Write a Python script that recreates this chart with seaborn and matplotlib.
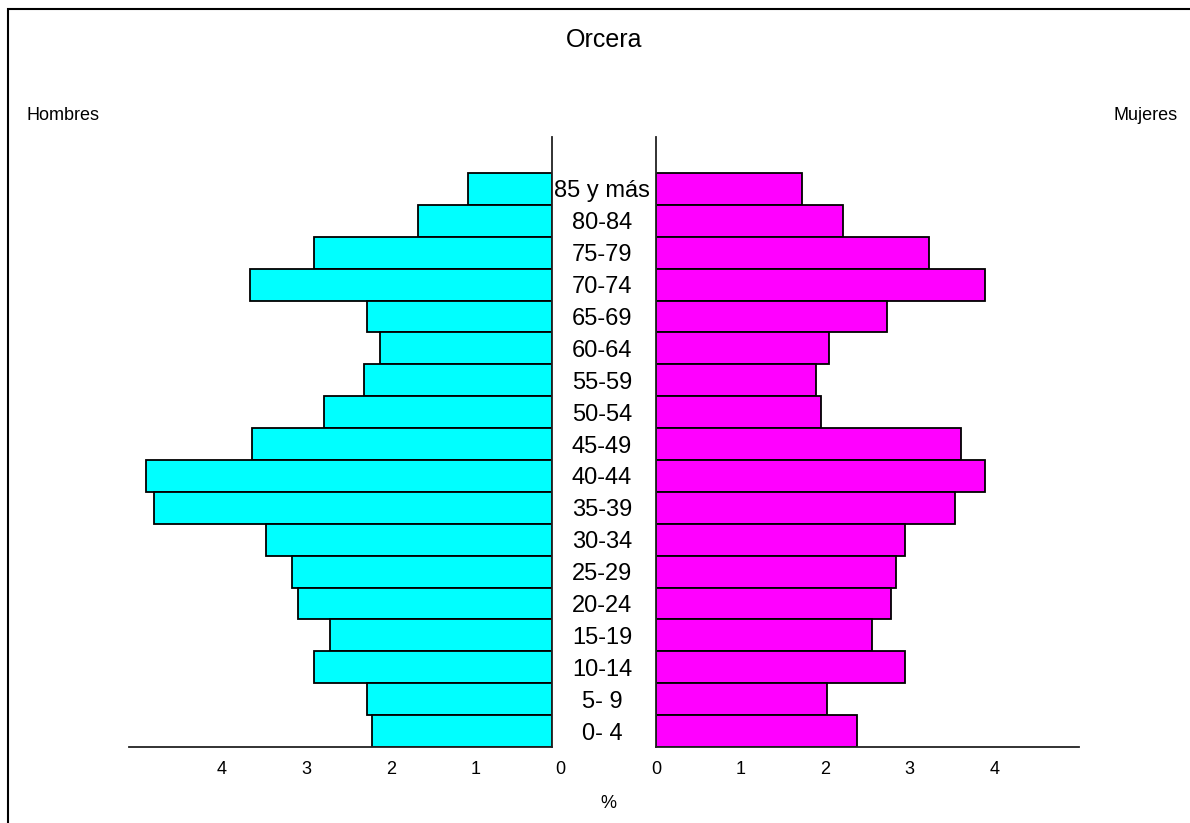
import numpy as np
import pandas as pd
import matplotlib
matplotlib.use("Agg")
import matplotlib.pyplot as plt
import matplotlib.transforms as mtransforms
from matplotlib.patches import Rectangle
import seaborn as sns

# ── DATA (percent of population, top group first) ─────────────────────────────
age_groups = ["85 y más", "80-84", "75-79", "70-74", "65-69", "60-64", "55-59",
              "50-54", "45-49", "40-44", "35-39", "30-34", "25-29", "20-24",
              "15-19", "10-14", "5- 9", "0- 4"]
hombres = [0.99, 1.58, 2.81, 3.57, 2.19, 2.03, 2.22, 2.69, 3.55,
           4.80, 4.70, 3.38, 3.07, 3.00, 2.62, 2.81, 2.19, 2.13]
mujeres = [1.73, 2.21, 3.23, 3.89, 2.73, 2.04, 1.89, 1.95, 3.60,
           3.89, 3.53, 2.94, 2.84, 2.78, 2.55, 2.94, 2.02, 2.38]
x_ticks = [0, 1, 2, 3, 4]

df = pd.DataFrame({"grupo": age_groups, "hombres": hombres, "mujeres": mujeres})

sns.set_style("white")
plt.rcParams["font.family"] = ["Liberation Sans", "DejaVu Sans"]
plt.rcParams["text.color"] = "black"
plt.rcParams["xtick.color"] = "black"

W, H = 1190, 823
fig = plt.figure(figsize=(W / 100, H / 100), dpi=100)

ax_l = fig.add_axes([129 / W, (H - 747) / H, (552 - 129) / W, (747 - 137) / H])
ax_r = fig.add_axes([656 / W, (H - 747) / H, (1079 - 656) / W, (747 - 137) / H])

sns.barplot(data=df, x="hombres", y="grupo", order=age_groups, ax=ax_l,
            color="#00FFFF", saturation=1, width=1.0, edgecolor="black", linewidth=1.3)
sns.barplot(data=df, x="mujeres", y="grupo", order=age_groups, ax=ax_r,
            color="#FF00FF", saturation=1, width=1.0, edgecolor="black", linewidth=1.3)

n = len(age_groups)
for ax in (ax_l, ax_r):
    ax.set_ylim(n - 0.5, -1.63)
    ax.set_yticks([])
    ax.set_xlabel("")
    ax.set_ylabel("")
    ax.set_xticks(x_ticks)
    ax.set_xticklabels([str(t) for t in x_ticks], fontsize=13, color="black")
    ax.tick_params(axis="x", direction="out", length=4, width=1.2, color="#222222", pad=6)
    ax.spines["top"].set_visible(False)
    for s in ax.spines.values():
        s.set_color("#222222")
        s.set_linewidth(1.3)

ax_l.set_xlim(5, 0)
ax_l.spines["left"].set_visible(False)
ax_r.set_xlim(0, 5)
ax_r.spines["right"].set_visible(False)

# left tick labels sit a little to the right of their ticks
shift = mtransforms.ScaledTranslation(8 / 100, 0, fig.dpi_scale_trans)
for lbl in ax_l.get_xticklabels():
    lbl.set_transform(lbl.get_transform() + shift)

# age group labels between the two halves
trans = mtransforms.blended_transform_factory(fig.transFigure, ax_l.transData)
for i, g in enumerate(age_groups):
    fig.text(602 / W, i, g, transform=trans, ha="center", va="center_baseline",
             fontsize=17, zorder=5,
             bbox=dict(facecolor="white", edgecolor="none", pad=0.5))

fig.text(604 / W, 1 - 40 / H, "Orcera", ha="center", va="center", fontsize=18)
fig.text(27 / W, 1 - 116 / H, "Hombres", ha="left", va="center", fontsize=13)
fig.text(1178 / W, 1 - 116 / H, "Mujeres", ha="right", va="center", fontsize=13)
fig.text(608 / W, 1 - 803 / H, "%", ha="center", va="center", fontsize=13)

# outer frame
fig.patches.append(Rectangle((8 / W, -0.05), 1.1, 1.05 - 9 / H, transform=fig.transFigure,
                             fill=False, edgecolor="black", linewidth=1.5))

fig.savefig("out.png", dpi=100)
